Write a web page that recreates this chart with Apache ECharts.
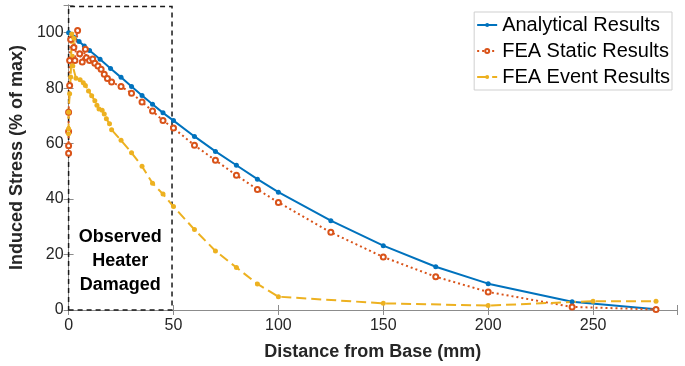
<!DOCTYPE html>
<html>
<head>
<meta charset="utf-8">
<script src="https://cdn.jsdelivr.net/npm/echarts@6/dist/echarts.min.js"></script>
<style>
html,body{margin:0;padding:0;background:#fff;}
#chart{width:685px;height:366px;}
</style>
</head>
<body>
<div id="chart"></div>
<script>
// ---- data ----
const analyticalX = [0,2.5,5,7.5,10,15,20,25,30,35,40,45,50,60,70,80,90,100,125,150,175,200,240,280];
const analyticalY = [100,98.4,96.8,95.2,93.6,90.4,87.1,83.9,80.6,77.4,74.2,71.1,68.3,62.6,57.2,52.2,47.2,42.5,32.2,23.2,15.6,9.5,3.0,0.3];

const staticX = [0,0,0,0,0.5,0.5,1,2.5,4.3,3,5.3,6.5,8,8.5,10,11.5,12.5,14,15.5,17,18.5,20.5,25,30,35,40,45,50,60,70,80,90,100,125,150,175,200,240,280];
const staticY = [56.5,59.2,64.4,71.3,81,90,97.6,94.7,100.8,90,92.4,89.4,94,91,90,90.5,89,88,86.8,85,83.5,82.2,80.6,78.2,75,71.8,68.3,65.6,59.4,54,48.6,43.5,38.8,28,19.1,12,6.5,1.1,0.2];

const eventX = [0,0,0,0.5,1,1.5,2.5,2,3.5,5.5,7,8,9.5,11,12.5,13.5,14.5,16,17,18,19.5,20.5,25,30,35,40,45,50,60,70,80,90,100,150,200,250,280];
const eventY = [63.6,65.4,71.3,78,84,99.5,98,88,83.6,83,82,81,79,77.3,75.5,73.8,72.5,72,70.7,69,67.2,65,61.2,56.7,51.8,45.7,41.8,37.3,29,21.3,15.3,9.4,4.8,2.4,1.6,3.2,3.2];

const seriesNames = ['Analytical Results','FEA Static Results','FEA Event Results'];
const xTickLabels = [0,50,100,150,200,250];
const yTickLabels = [0,20,40,60,80,100];
const damagedZoneX = [0,49.3];
const damagedZoneY = [0,109.5];
const damagedLabel = 'Observed\nHeater\nDamaged';

const FONT = '"Liberation Sans", Arial, Helvetica, sans-serif';
const zip = (xs, ys) => xs.map((x, i) => [x, ys[i]]);

const axisColor = '#8c8c8c';
const xAxisBase = {
  type: 'value', min: 0, max: 290, interval: 50,
  axisLine: { show: true, lineStyle: { color: axisColor, width: 1 } },
  axisTick: { show: true, inside: true, length: 5, lineStyle: { color: axisColor } },
  splitLine: { show: false }
};
const yAxisBase = {
  type: 'value', min: 0, max: 110, interval: 20,
  axisLine: { show: true, lineStyle: { color: axisColor, width: 1 } },
  axisTick: { show: true, inside: true, length: 5, lineStyle: { color: axisColor } },
  splitLine: { show: false }
};

const chart = echarts.init(document.getElementById('chart'), null, { renderer: 'canvas' });
chart.setOption({
  animation: false,
  backgroundColor: '#fff',
  textStyle: { fontFamily: FONT },
  grid: { left: 67, right: 8, top: 5, bottom: 56, containLabel: false },
  legend: {
    data: seriesNames,
    orient: 'vertical',
    right: 13, top: 12,
    itemWidth: 20, itemHeight: 5, itemGap: 6,
    padding: [3, 2, 3, 2],
    borderColor: '#cfcfcf', borderWidth: 1,
    backgroundColor: '#fff',
    textStyle: { fontSize: 20, color: '#000', fontFamily: FONT }
  },
  xAxis: [
    Object.assign({}, xAxisBase, {
      position: 'bottom',
      name: 'Distance from Base (mm)', nameLocation: 'middle', nameGap: 33,
      nameTextStyle: { fontSize: 18, fontWeight: 'bold', color: '#262626', fontFamily: FONT },
      axisLabel: {
        fontSize: 16, color: '#262626', margin: 8, fontFamily: FONT,
        formatter: v => xTickLabels.indexOf(v) >= 0 ? String(v) : ''
      }
    }),
    Object.assign({}, xAxisBase, { position: 'top', axisLabel: { show: false } })
  ],
  yAxis: [
    Object.assign({}, yAxisBase, {
      position: 'left',
      name: 'Induced Stress (% of max)', nameLocation: 'middle', nameGap: 30,
      nameTextStyle: { fontSize: 18, fontWeight: 'bold', color: '#262626', fontFamily: FONT },
      axisLabel: {
        fontSize: 16, color: '#262626', margin: 5, fontFamily: FONT,
        formatter: v => yTickLabels.indexOf(v) >= 0 ? String(v) : ''
      }
    }),
    Object.assign({}, yAxisBase, { position: 'right', axisLabel: { show: false } })
  ],
  series: [
    {
      name: seriesNames[0], type: 'line', xAxisIndex: 0, yAxisIndex: 0,
      data: zip(analyticalX, analyticalY),
      symbol: 'circle', symbolSize: 5,
      lineStyle: { color: '#0072BD', width: 2 },
      itemStyle: { color: '#0072BD' },
      markArea: {
        silent: true,
        itemStyle: { color: 'rgba(0,0,0,0)', borderColor: '#1a1a1a', borderWidth: 1.5, borderType: [5, 4] },
        label: {
          show: true, position: 'insideBottom', distance: 14,
          formatter: damagedLabel,
          fontSize: 18, fontWeight: 'bold', lineHeight: 24, color: '#000', fontFamily: FONT, align: 'center'
        },
        data: [[{ coord: [damagedZoneX[0], damagedZoneY[0]] }, { coord: [damagedZoneX[1], damagedZoneY[1]] }]]
      }
    },
    {
      name: seriesNames[1], type: 'line', xAxisIndex: 0, yAxisIndex: 0,
      data: zip(staticX, staticY),
      symbol: 'emptyCircle', symbolSize: 5,
      lineStyle: { color: '#D95319', width: 2, type: [2, 3] },
      itemStyle: { color: '#D95319', borderWidth: 2 }
    },
    {
      name: seriesNames[2], type: 'line', xAxisIndex: 0, yAxisIndex: 0,
      data: zip(eventX, eventY),
      symbol: 'circle', symbolSize: 5,
      lineStyle: { color: '#EDB120', width: 2, type: [10, 5] },
      itemStyle: { color: '#EDB120' }
    }
  ]
});
</script>
</body>
</html>
